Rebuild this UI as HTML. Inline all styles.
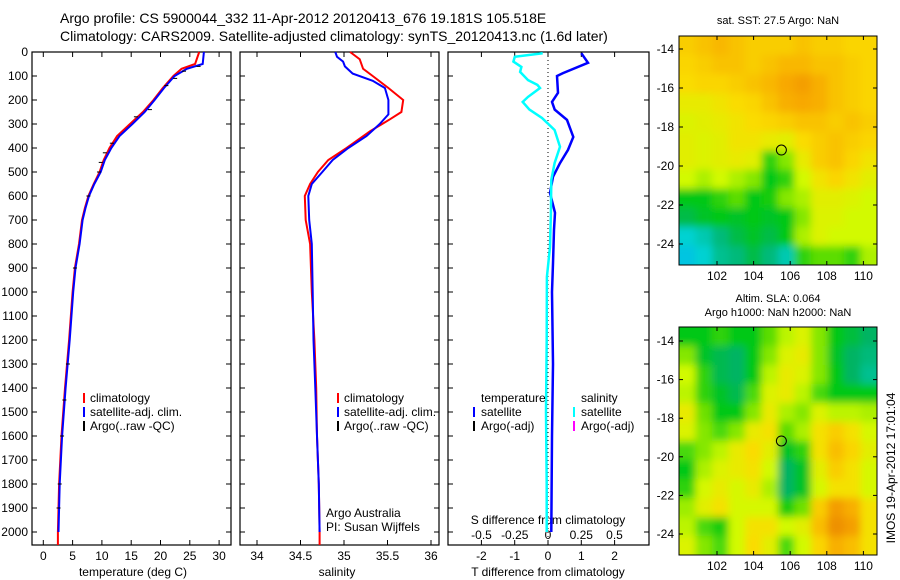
<!DOCTYPE html>
<html><head><meta charset="utf-8">
<style>
body{margin:0;background:#fff;}
svg{display:block;font-family:"Liberation Sans",sans-serif;}
text{fill:#000;}
</style></head>
<body>
<svg id="fig" width="900" height="580" viewBox="0 0 900 580" xmlns="http://www.w3.org/2000/svg">
<text x="60" y="23" font-size="14">Argo profile: CS 5900044_332 11-Apr-2012 20120413_676 19.181S 105.518E</text>
<text x="60" y="41" font-size="14">Climatology: CARS2009. Satellite-adjusted climatology: synTS_20120413.nc (1.6d later)</text>
<g id="g"></g>
</svg>
<script>
// ---------- data ----------
const depthTicks=[0,100,200,300,400,500,600,700,800,900,1000,1100,1200,1300,1400,1500,1600,1700,1800,1900,2000];
const tTicks=[0,5,10,15,20,25,30];
const sTicks=[34,34.5,35,35.5,36];
const dTTicks=[-2,-1,0,1,2];
const dSTicks=[-0.5,-0.25,0,0.25,0.5];
const dSTickLabels=["-0.5","-0.25","0","0.25","0.5"];
const tempClimDepth=[0,50,70,100,150,200,250,300,350,400,450,500,550,600,650,700,800,900,1000,1200,1400,1600,1800,2000,2054];
const tempClim=[26.6,25.9,23.6,22.2,20.4,18.8,17.0,14.8,12.6,11.3,10.3,9.6,8.6,7.7,7.1,6.6,6.1,5.4,5.0,4.4,3.7,3.1,2.7,2.5,2.5];
const tempSatDepth=[0,50,70,100,150,200,250,300,350,400,450,500,550,600,650,700,800,900,1000,1200,1400,1600,1800,2000];
const tempSat=[27.4,27.2,24.5,22.4,20.6,19.0,17.3,15.2,13.0,11.6,10.5,9.8,8.7,7.8,7.2,6.7,6.2,5.5,5.1,4.5,3.8,3.2,2.8,2.6];
const argoDepth=[60,80,110,140,240,270,380,420,460,500,600,900,1300,1450,1600,1800,1900];
const argoTemp=[26.5,24,22.5,21,18.2,15.8,11.7,10.5,9.8,9.5,7.7,5.4,4.2,3.6,3.2,2.8,2.6];
const salClimDepth=[0,30,70,100,150,200,250,280,330,400,450,500,550,600,700,800,1000,1200,1400,1600,1800,2000,2054];
const salClim=[35.07,35.18,35.22,35.33,35.51,35.68,35.66,35.53,35.30,35.03,34.82,34.70,34.61,34.55,34.56,34.61,34.63,34.66,34.68,34.69,34.71,34.72,34.72];
const salSatDepth=[0,20,40,60,90,120,150,200,260,300,350,400,450,500,550,600,700,800,1000,1200,1400,1600,1800,2000];
const salSat=[34.90,34.92,34.99,35.01,35.10,35.33,35.47,35.51,35.51,35.41,35.26,35.05,34.87,34.75,34.63,34.59,34.60,34.63,34.64,34.65,34.67,34.69,34.71,34.72];
const dTDepth=[5,45,88,100,170,208,240,283,354,408,463,520,588,670,741,880,1000,1300,1600,2000];
const dT=[1.0,1.2,0.45,0.27,0.3,0.12,0.2,0.57,0.76,0.6,0.36,0.15,0.06,0.21,0.18,0.15,0.12,0.15,0.12,0.1];
const dSDepth=[5,20,40,62,83,117,137,150,187,208,240,275,325,395,463,533,670,812,937,1200,1500,1800,2000];
const dS=[-0.04,-0.25,-0.26,-0.2,-0.21,-0.15,-0.08,-0.06,-0.15,-0.19,-0.14,-0.045,0.05,0.09,0.05,0.025,0.022,0.015,-0.008,-0.01,-0.015,-0.01,-0.01];
const lonTicks=[102,104,106,108,110];
const latTicks=[-14,-16,-18,-20,-22,-24];
const sstGrid=[
[.72,.75,.78,.75,.72,.72,.72,.75,.72,.72,.70,.70],
[.70,.72,.75,.75,.72,.75,.78,.78,.75,.75,.72,.70],
[.68,.70,.70,.72,.75,.78,.82,.85,.80,.75,.72,.70],
[.62,.62,.65,.68,.70,.75,.80,.82,.80,.75,.72,.70],
[.58,.60,.62,.65,.68,.70,.72,.75,.75,.72,.75,.72],
[.60,.58,.60,.65,.65,.62,.60,.68,.72,.75,.72,.70],
[.60,.58,.60,.62,.60,.35,.45,.62,.72,.75,.70,.65],
[.55,.50,.55,.50,.45,.30,.35,.55,.65,.70,.65,.60],
[.30,.30,.35,.40,.30,.32,.45,.50,.60,.60,.58,.55],
[.25,.28,.30,.28,.30,.28,.30,.45,.58,.58,.55,.55],
[.12,.15,.20,.25,.28,.25,.30,.50,.58,.55,.55,.55],
[.08,.12,.18,.20,.25,.20,.15,.35,.40,.40,.35,.50]];
const slaGrid=[
[.30,.30,.35,.30,.30,.40,.52,.58,.45,.30,.26,.22],
[.45,.28,.24,.22,.30,.45,.58,.62,.45,.28,.22,.20],
[.55,.35,.24,.22,.30,.52,.62,.58,.45,.30,.22,.18],
[.52,.35,.28,.24,.38,.58,.62,.52,.38,.30,.30,.30],
[.62,.42,.30,.30,.45,.62,.50,.45,.58,.52,.52,.50],
[.58,.45,.38,.45,.62,.66,.40,.50,.66,.72,.66,.56],
[.38,.45,.52,.62,.68,.60,.28,.35,.66,.76,.70,.60],
[.30,.50,.58,.62,.66,.55,.22,.28,.60,.72,.66,.56],
[.35,.56,.62,.56,.62,.50,.22,.28,.56,.66,.66,.56],
[.48,.60,.66,.56,.56,.56,.32,.42,.72,.86,.80,.66],
[.52,.38,.32,.55,.66,.66,.55,.60,.76,.90,.85,.66],
[.58,.45,.38,.55,.68,.60,.38,.55,.70,.80,.76,.66]];

// ---------- helpers ----------
const NS="http://www.w3.org/2000/svg";
const G=document.getElementById('g');
function mk(tag,attrs,parent){const e=document.createElementNS(NS,tag);for(const k in attrs)e.setAttribute(k,attrs[k]);(parent||G).appendChild(e);return e;}
const Y0=52,PXM=0.24,YB=545;
const yD=d=>Y0+d*PXM;
const xT=t=>43.3+t*5.86;
const xS=s=>257+(s-34)*87;
const xDT=t=>548+t*33.3;
const xDS=s=>548+s*133;

function stepPath(xs,ds,xf){let p='';for(let i=0;i<xs.length;i++){const x=xf(xs[i]).toFixed(1),y=yD(ds[i]).toFixed(1);p+=(i?'L':'M')+x+','+y;}return p;}

function panel(x0,x1,name){
  const b=mk('rect',{x:x0,y:Y0,width:x1-x0,height:YB-Y0,fill:'none',stroke:'#000','stroke-width':1.2});
  
  
  depthTicks.forEach(d=>{
    const t1=mk('line',{x1:x0,x2:x0+5,y1:yD(d),y2:yD(d),stroke:'#000'});
    
    
    const t2=mk('line',{x1:x1-5,x2:x1,y1:yD(d),y2:yD(d),stroke:'#000'});
    
    
  });
}
function xTicks(ticks,labels,xf,x0,name,ly){
  ticks.forEach((t,i)=>{
    const x=xf(t);
    const a=mk('line',{x1:x,x2:x,y1:YB,y2:YB-5,stroke:'#000'});
    
    
    const b=mk('line',{x1:x,x2:x,y1:Y0,y2:Y0+5,stroke:'#000'});
    
    
    const l=mk('text',{x:x,y:ly||560,'font-size':12,'text-anchor':'middle'});
    l.textContent=labels?labels[i]:String(t);
    
    
  });
}
function line(xs,ds,xf,color,name,w){
  const p=mk('path',{d:stepPath(xs,ds,xf),fill:'none',stroke:color,'stroke-width':w||2});
  
  
}
function txt(x,y,s,name,size,anchor){
  const t=mk('text',{x:x,y:y,'font-size':size||12,'text-anchor':anchor||'start'});
  t.textContent=s;
  
  
  return t;
}
function legendMark(x,y,color,name){
  const r=mk('rect',{x:x,y:y-9,width:2,height:10,fill:color});
  
  
}

// ---------- panel 1: temperature ----------
panel(32,231,'temperature-panel');
depthTicks.forEach(d=>{
  txt(28,yD(d)+4,String(d),'depth-tick-label',12,'end');
});
xTicks(tTicks,null,xT,32,'temperature');
txt(133,576,'temperature (deg C)','temperature-axis-title',12,'middle');
line(tempClim,tempClimDepth,xT,'#f00','temperature-climatology-line');
line(tempSat,tempSatDepth,xT,'#00f','temperature-satellite-line');
argoTemp.forEach((t,i)=>{
  const m=mk('line',{x1:xT(t)-2,x2:xT(t)+2,y1:yD(argoDepth[i]),y2:yD(argoDepth[i]),stroke:'#000','stroke-width':1});
  
  
});
legendMark(83,402,'#f00','legend-climatology-marker');
txt(90,402,'climatology','legend-climatology');
legendMark(83,416,'#00f','legend-satellite-marker');
txt(90,416,'satellite-adj. clim.','legend-satellite');
legendMark(83,430,'#000','legend-argo-marker');
txt(90,430,'Argo(..raw -QC)','legend-argo');

// ---------- panel 2: salinity ----------
panel(240,439,'salinity-panel');
xTicks(sTicks,null,xS,240,'salinity');
txt(337,576,'salinity','salinity-axis-title',12,'middle');
line(salClim,salClimDepth,xS,'#f00','salinity-climatology-line');
line(salSat,salSatDepth,xS,'#00f','salinity-satellite-line');
legendMark(337,402,'#f00','legend2-climatology-marker');
txt(344,402,'climatology','legend2-climatology');
legendMark(337,416,'#00f','legend2-satellite-marker');
txt(344,416,'satellite-adj. clim.','legend2-satellite');
legendMark(337,430,'#000','legend2-argo-marker');
txt(344,430,'Argo(..raw -QC)','legend2-argo');
txt(326,517,'Argo Australia','credit-argo-australia');
txt(326,531,'PI: Susan Wijffels','credit-pi');

// ---------- panel 3: differences ----------
panel(448,649,'difference-panel');
const z=mk('line',{x1:xDT(0),x2:xDT(0),y1:Y0,y2:YB,stroke:'#000','stroke-dasharray':'1,3'});


xTicks(dTTicks,null,xDT,448,'t-difference');
dSTicks.forEach((s,i)=>{
  txt(xDS(s),539,dSTickLabels[i],'s-difference-tick-label',12,'middle');
});
txt(548,524,'S difference from climatology','s-difference-axis-title',12,'middle');
txt(548,576,'T difference from climatology','t-difference-axis-title',12,'middle');
line(dT,dTDepth,xDT,'#00f','t-difference-satellite-line',2.5);
line(dS,dSDepth,xDS,'#0ff','s-difference-satellite-line',2.5);
txt(481,402,'temperature','legend3-temperature');
legendMark(473,416,'#00f','legend3-t-satellite-marker');
txt(481,416,'satellite','legend3-t-satellite');
legendMark(473,430,'#000','legend3-t-argo-marker');
txt(481,430,'Argo(-adj)','legend3-t-argo');
txt(581,402,'salinity','legend3-salinity');
legendMark(573,416,'#0ff','legend3-s-satellite-marker');
txt(581,416,'satellite','legend3-s-satellite');
legendMark(573,430,'#f0f','legend3-s-argo-marker');
txt(581,430,'Argo(-adj)','legend3-s-argo');

// ---------- maps ----------
function cmap(v){
  const stops=[[0,[0,170,255]],[0.12,[0,210,210]],[0.22,[0,180,100]],[0.3,[0,200,20]],[0.42,[110,225,0]],[0.55,[210,250,0]],[0.68,[250,220,0]],[0.82,[248,168,0]],[1,[225,115,0]]];
  for(let i=1;i<stops.length;i++){if(v<=stops[i][0]){const a=stops[i-1],b=stops[i],f=(v-a[0])/(b[0]-a[0]);return 'rgb('+a[1].map((c,k)=>Math.round(c+(b[1][k]-c)*f)).join(',')+')';}}
  return 'rgb(225,115,0)';
}
let fid=0;
function map(grid,x0,x1,y0,y1,lat14,pxLat,name){
  const id='clip'+(fid++);
  const defs=mk('defs',{});
  const cp=mk('clipPath',{id:id},defs);
  mk('rect',{x:x0,y:y0,width:x1-x0,height:y1-y0},cp);
  const flt=mk('filter',{id:'f'+id,x:'-5%',y:'-5%',width:'110%',height:'110%'},defs);
  mk('feGaussianBlur',{stdDeviation:4},flt);
  const gg=mk('g',{'clip-path':'url(#'+id+')'});
  const inner=mk('g',{filter:'url(#f'+id+')'},gg);
  const rows=grid.length,cols=grid[0].length;
  const cw=(x1-x0)/cols,ch=(y1-y0)/rows;
  grid.forEach((row,r)=>row.forEach((v,c)=>{
    const e=mk('rect',{x:x0+c*cw-(c==0?10:0),y:y0+r*ch-(r==0?10:0),width:cw+1+(c==0||c==cols-1?10:0),height:ch+1+(r==0||r==rows-1?10:0),fill:cmap(v)},inner);
    
    
  }));
  const fr=mk('rect',{x:x0,y:y0,width:x1-x0,height:y1-y0,fill:'none',stroke:'#000','stroke-width':1});
  
  
  const xL=lon=>717+(lon-102)*18.3;
  const yL=lat=>lat14+(-14-lat)*pxLat;
  lonTicks.forEach(l=>{
    const a=mk('line',{x1:xL(l),x2:xL(l),y1:y1,y2:y1-4,stroke:'#000'});
    
    
    const b=mk('line',{x1:xL(l),x2:xL(l),y1:y0,y2:y0+4,stroke:'#000'});
    
    
    txt(xL(l),y1+15,String(l),name+'-lon-label',12,'middle');
  });
  latTicks.forEach(l=>{
    const a=mk('line',{x1:x0,x2:x0+4,y1:yL(l),y2:yL(l),stroke:'#000'});
    
    
    const b=mk('line',{x1:x1-4,x2:x1,y1:yL(l),y2:yL(l),stroke:'#000'});
    
    
    txt(x0-5,yL(l)+4,String(l),name+'-lat-label',12,'end');
  });
  const c=mk('circle',{cx:xL(105.518),cy:yL(-19.181),r:5,fill:'none',stroke:'#000','stroke-width':1});
  
  
}
map(sstGrid,679,877,36,265,49,19.5,'sst-map');
txt(778,24,'sat. SST: 27.5 Argo: NaN','sst-map-title',11,'middle');
map(slaGrid,679,877,327,555,341,19.3,'sla-map');
txt(778,302,'Altim. SLA: 0.064','sla-map-title-1',11,'middle');
txt(778,316,'Argo h1000: NaN h2000: NaN','sla-map-title-2',11,'middle');
const st=txt(0,0,'IMOS 19-Apr-2012 17:01:04','imos-timestamp',12,'middle');
st.setAttribute('transform','translate(895,468) rotate(-90)');
</script>
</body></html>
